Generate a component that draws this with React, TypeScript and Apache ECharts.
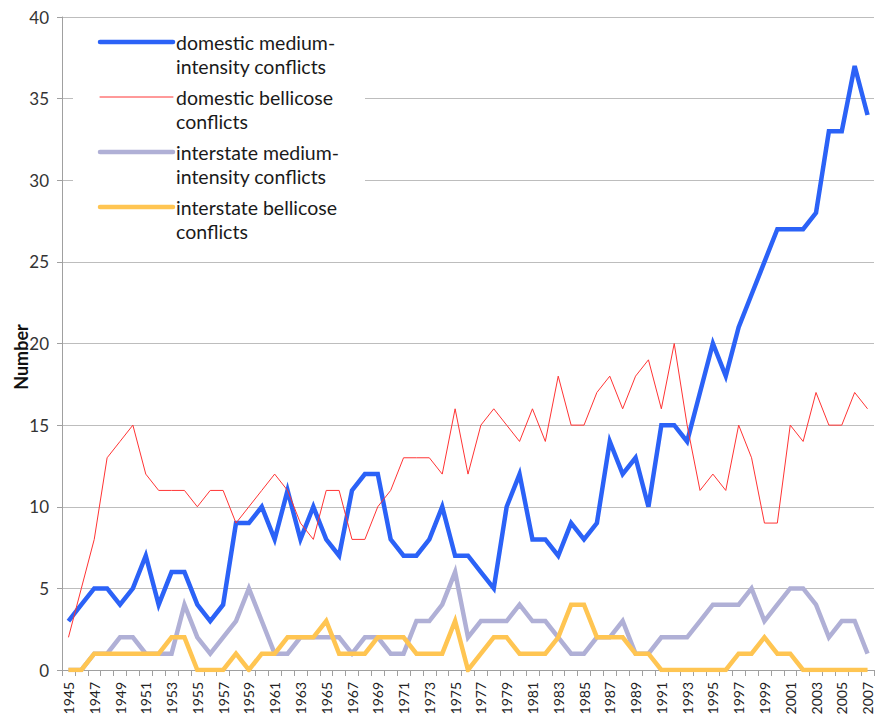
import React, { useEffect, useRef } from "react";
import * as echarts from "echarts";

const years = [
  "1945", "1946", "1947", "1948", "1949", "1950", "1951", "1952", "1953", "1954",
  "1955", "1956", "1957", "1958", "1959", "1960", "1961", "1962", "1963", "1964",
  "1965", "1966", "1967", "1968", "1969", "1970", "1971", "1972", "1973", "1974",
  "1975", "1976", "1977", "1978", "1979", "1980", "1981", "1982", "1983", "1984",
  "1985", "1986", "1987", "1988", "1989", "1990", "1991", "1992", "1993", "1994",
  "1995", "1996", "1997", "1998", "1999", "2000", "2001", "2002", "2003", "2004",
  "2005", "2006", "2007",
];

const domesticMedium = [
  3, 4, 5, 5, 4, 5, 7, 4, 6, 6,
  4, 3, 4, 9, 9, 10, 8, 11, 8, 10,
  8, 7, 11, 12, 12, 8, 7, 7, 8, 10,
  7, 7, 6, 5, 10, 12, 8, 8, 7, 9,
  8, 9, 14, 12, 13, 10, 15, 15, 14, 17,
  20, 18, 21, 23, 25, 27, 27, 27, 28, 33,
  33, 37, 34,
];

const domesticBellicose = [
  2, 5, 8, 13, 14, 15, 12, 11, 11, 11,
  10, 11, 11, 9, 10, 11, 12, 11, 9, 8,
  11, 11, 8, 8, 10, 11, 13, 13, 13, 12,
  16, 12, 15, 16, 15, 14, 16, 14, 18, 15,
  15, 17, 18, 16, 18, 19, 16, 20, 15, 11,
  12, 11, 15, 13, 9, 9, 15, 14, 17, 15,
  15, 17, 16,
];

const interstateMedium = [
  0, 0, 1, 1, 2, 2, 1, 1, 1, 4,
  2, 1, 2, 3, 5, 3, 1, 1, 2, 2,
  2, 2, 1, 2, 2, 1, 1, 3, 3, 4,
  6, 2, 3, 3, 3, 4, 3, 3, 2, 1,
  1, 2, 2, 3, 1, 1, 2, 2, 2, 3,
  4, 4, 4, 5, 3, 4, 5, 5, 4, 2,
  3, 3, 1,
];

const interstateBellicose = [
  0, 0, 1, 1, 1, 1, 1, 1, 2, 2,
  0, 0, 0, 1, 0, 1, 1, 2, 2, 2,
  3, 1, 1, 1, 2, 2, 2, 1, 1, 1,
  3, 0, 1, 2, 2, 1, 1, 1, 2, 4,
  4, 2, 2, 2, 1, 1, 0, 0, 0, 0,
  0, 0, 1, 1, 2, 1, 1, 0, 0, 0,
  0, 0, 0,
];

const seriesNames = [
  "domestic medium-\nintensity conflicts",
  "domestic bellicose\nconflicts",
  "interstate medium-\nintensity conflicts",
  "interstate bellicose\nconflicts",
];

const yAxisName = "Number";

export default function App() {
  const ref = useRef<HTMLDivElement>(null);

  useEffect(() => {
    if (!ref.current) return;
    const chart = echarts.init(ref.current, null, { renderer: "svg" });
    const FONT = "Lato, 'Noto Sans', sans-serif";
    const styles = [
      { color: "#2b62f7", width: 4.5 },
      { color: "#ff3434", width: 1 },
      { color: "#b0b0d6", width: 4.5 },
      { color: "#ffc552", width: 4.5 },
    ];
    const values = [domesticMedium, domesticBellicose, interstateMedium, interstateBellicose];

    const legendItems: any[] = [];
    seriesNames.forEach((name, i) => {
      const y = 42 + i * 55;
      legendItems.push({
        type: "line",
        shape: { x1: 100, y1: y, x2: 173, y2: y },
        style: { stroke: styles[i].color, lineWidth: styles[i].width, lineCap: "round" },
        z: 101,
      });
      legendItems.push({
        type: "text",
        x: 176,
        y: y - 12,
        style: {
          text: name,
          fontFamily: FONT,
          fontSize: 19.5,
          lineHeight: 24,
          fill: "#1a1a1a",
          align: "left",
          verticalAlign: "top",
        },
        z: 101,
      });
    });

    chart.setOption({
      animation: false,
      backgroundColor: "#ffffff",
      grid: {
        left: 62,
        right: 2,
        top: 17,
        bottom: 52,
        containLabel: false,
        outerBoundsMode: "none",
      },
      xAxis: {
        type: "category",
        data: years,
        boundaryGap: true,
        axisLine: { show: true, lineStyle: { color: "#a0a0a0", width: 1 } },
        axisTick: { show: true, interval: 0, length: 6, lineStyle: { color: "#a0a0a0" } },
        axisLabel: {
          interval: 1,
          rotate: 90,
          fontFamily: FONT,
          fontSize: 14,
          lineHeight: 12,
          color: "#222",
          margin: 12,
        },
        splitLine: { show: false },
      },
      yAxis: {
        type: "value",
        min: 0,
        max: 40,
        interval: 5,
        name: yAxisName,
        nameLocation: "middle",
        nameGap: 32,
        nameMoveOverlap: false,
        nameTextStyle: {
          fontFamily: FONT,
          fontSize: 18,
          fontWeight: "bold",
          color: "#111",
          padding: [0, 27, 0, 0],
        },
        axisLine: { show: true, lineStyle: { color: "#a0a0a0", width: 1 } },
        axisTick: { show: true, length: 5, lineStyle: { color: "#a0a0a0" } },
        axisLabel: { fontFamily: FONT, fontSize: 17, color: "#333", margin: 13 },
        splitLine: { show: true, lineStyle: { color: "#bdbdbd", width: 1 } },
      },
      series: values.map((v, i) => ({
        name: seriesNames[i],
        type: "line",
        data: v,
        symbol: "none",
        showSymbol: false,
        smooth: false,
        lineStyle: { color: styles[i].color, width: styles[i].width, join: "miter" },
        itemStyle: { color: styles[i].color },
        z: 2 + i,
      })),
      graphic: [
        {
          type: "rect",
          shape: { x: 73, y: 20, width: 292, height: 236 },
          style: { fill: "#ffffff" },
          z: 100,
        },
        ...legendItems,
      ],
    });

    return () => {
      chart.dispose();
    };
  }, []);

  return (
    <div
      ref={ref}
      style={{ position: "absolute", left: 0, top: 0, width: 876, height: 722, background: "#fff" }}
    />
  );
}
